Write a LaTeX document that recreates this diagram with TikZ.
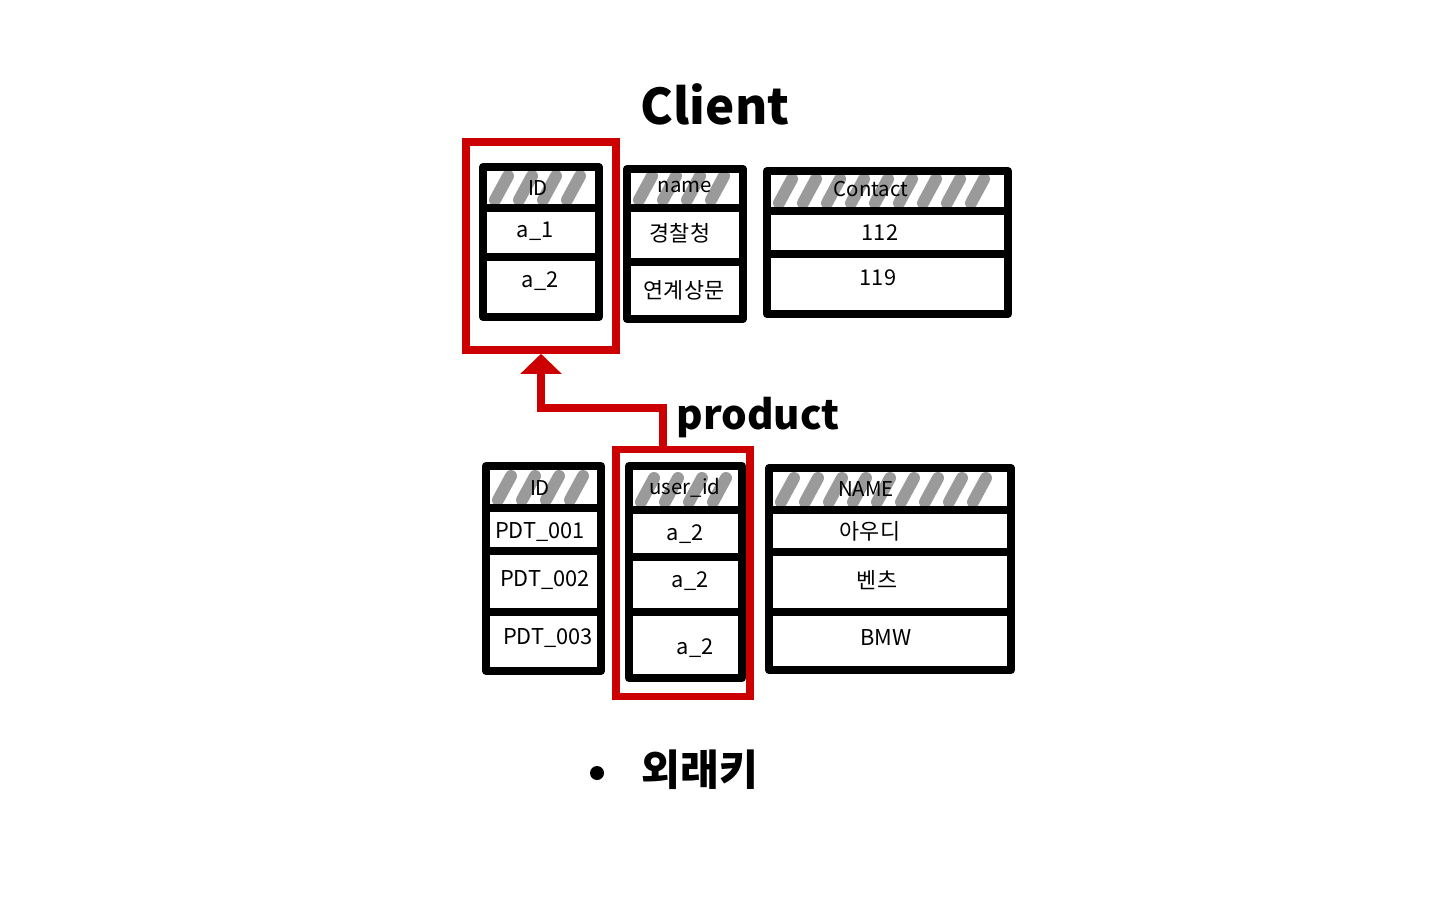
\documentclass[tikz,border=0pt]{standalone}
\usepackage{fontspec}
\setmainfont{Noto Sans CJK KR}
\usetikzlibrary{positioning, arrows.meta}
\definecolor{fkred}{HTML}{CC0000}
\definecolor{hatchgray}{HTML}{9A9A9A}

\tikzset{
  tabline/.style={line width=2.3pt, line cap=round, line join=round},
  hatch/.style={draw=hatchgray, line width=3.4pt, line cap=round},
  fkbox/.style={draw=fkred, line width=2.1pt, inner sep=0pt},
  fkarrow/.style={draw=fkred, line width=2.3pt, -{Triangle[width=4mm, length=2mm]}},
  cell/.style={font=\fontsize{6.2}{8}\selectfont, inner sep=0pt},
  head/.style={font=\fontsize{5.8}{7}\selectfont, inner sep=0pt},
  title/.style={font=\fontsize{14}{17}\selectfont\bfseries, inner sep=0pt},
}

% table: x1, y1, x2, y2, header line, row lines
\newcommand{\dbtable}[6]{%
  \pgfmathtruncatemacro{\nh}{(#3-#1-40)/24}
  \foreach \k in {0,...,\nh}
    \draw[hatch] ({#1+12+\k*24},{#5-8}) -- ++(13,-24);
  \draw[tabline] (#1,#2) rectangle (#3,#4);
  \foreach \dy in {#5,#6}
    \draw[tabline] (#1,\dy) -- (#3,\dy);
}

\begin{document}
\begin{tikzpicture}[x=0.01cm, y=-0.01cm]
  \useasboundingbox (0,0) rectangle (1440,900);

  % client
  \node[title] (client) at (715,104) {Client};
  \dbtable{483}{167}{599}{317}{208}{257}
  \dbtable{627}{169}{743}{319}{208}{262}
  \dbtable{767}{171}{1008}{314}{211}{254}
  \node[head] (c-id) at (538,188) {ID};
  \node[head] (c-name) at (685,187) {name};
  \node[head] (c-contact) at (871,189) {Contact};
  \node[cell] (c-id1) at (535,231) {a\_1};
  \node[cell] (c-id2) at (540,281) {a\_2};
  \node[cell] (c-name1) at (680,233) {경찰청};
  \node[cell] (c-name2) at (684,290) {연계상문};
  \node[cell] (c-tel1) at (880,233) {112};
  \node[cell] (c-tel2) at (878,278) {119};

  % product
  \node[title, font=\fontsize{11.5}{14}\selectfont\bfseries] (product) at (758,418) {product};
  \dbtable{486}{466}{601}{671}{508}{551,612}
  \dbtable{629}{466}{742}{678}{510}{557,612}
  \dbtable{769}{468}{1011}{670}{510}{552,612}
  \node[head] (p-id) at (540,488) {ID};
  \node[head] (p-user) at (685,488) {user\_id};
  \node[head] (p-name) at (866,489) {NAME};
  \node[cell] (p-id1) at (540,532) {PDT\_001};
  \node[cell] (p-id2) at (545,580) {PDT\_002};
  \node[cell] (p-id3) at (548,638) {PDT\_003};
  \node[cell] (p-user1) at (685,534) {a\_2};
  \node[cell] (p-user2) at (690,581) {a\_2};
  \node[cell] (p-user3) at (695,648) {a\_2};
  \node[cell] (p-name1) at (870,531) {아우디};
  \node[cell] (p-name2) at (877,580) {벤츠};
  \node[cell] (p-name3) at (886,637) {BMW};

  % foreign key
  \node[fkbox, minimum width=1.5cm, minimum height=2.08cm] (fk-client) at (541,246) {};
  \node[fkbox, minimum width=1.34cm, minimum height=2.47cm] (fk-product) at (683,573) {};
  \coordinate (bend) at (663,408);
  \draw[fkarrow] (bend |- fk-product.north) -- (bend) -| (fk-client.south);

  \node[circle, fill, inner sep=0pt, minimum size=1.4mm] (dot) at (597,773) {};
  \node[font=\fontsize{12}{14}\selectfont\bfseries, inner sep=0pt] (fk-label) at (700,770) {외래키};
\end{tikzpicture}
\end{document}
